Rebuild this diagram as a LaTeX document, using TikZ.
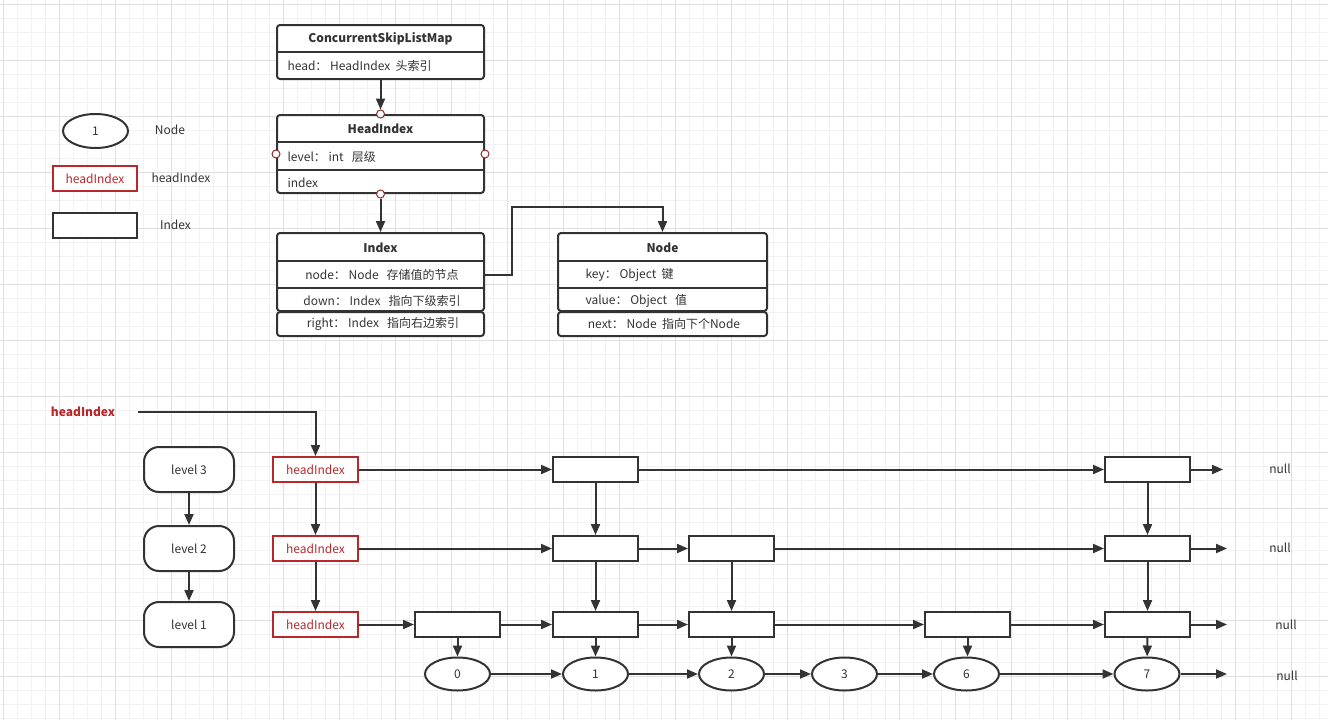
\documentclass[tikz,border=0pt]{standalone}
\usepackage{fontspec}
\setmainfont{Noto Sans CJK SC}
\usetikzlibrary{calc}
\usetikzlibrary{shapes,arrows.meta}

\definecolor{linegray}{HTML}{333333}
\definecolor{boxred}{HTML}{B8282B}
\definecolor{pinred}{HTML}{8E2A2F}
\definecolor{gridminor}{HTML}{F2F2F2}
\definecolor{gridmajor}{HTML}{E0E0E0}

\tikzset{
  line/.style={draw=linegray, line width=2pt},
  arr/.style={line, -{Triangle[length=11pt,width=9pt]}},
  classbox/.style={draw=linegray, line width=2pt, fill=white, rounded corners=3pt, minimum width=207pt, inner sep=0pt},
  idxbox/.style={draw=linegray, line width=2pt, fill=white, minimum width=85pt, minimum height=25pt, inner sep=0pt},
  redbox/.style={draw=boxred, line width=2pt, fill=white, text=boxred, minimum width=85pt, minimum height=25pt, inner sep=0pt},
  nodeell/.style={ellipse, draw=linegray, line width=2pt, fill=white, minimum width=65pt, minimum height=33pt, inner sep=0pt},
  levelbox/.style={draw=linegray, line width=2pt, fill=white, rounded corners=15pt, minimum width=90pt, minimum height=45pt, inner sep=0pt},
  pin/.style={circle, draw=pinred, fill=white, line width=1pt, minimum size=8pt, inner sep=0pt}
}

\begin{document}
\begin{tikzpicture}[x=1pt, y=-1pt, every node/.style={text=linegray, font=\fontsize{12}{14}\selectfont}]
    \useasboundingbox (0,0) rectangle (1328,720);
    \fill[white] (0,0) rectangle (1328,720);

    % background grid
    \foreach \gx in {3,17,...,1327} \draw[gridminor, line width=0.8pt] (\gx,0) -- (\gx,720);
    \foreach \gy in {4,18,...,719} \draw[gridminor, line width=0.8pt] (0,\gy) -- (1328,\gy);
    \foreach \gx in {3,59,...,1327} \draw[gridmajor, line width=0.8pt] (\gx,0) -- (\gx,720);
    \foreach \gy in {4,60,...,719} \draw[gridmajor, line width=0.8pt] (0,\gy) -- (1328,\gy);

    % class boxes
    \node [classbox, minimum height=54pt] (CSLM) at (380.5,52) {};
    \draw [line] (277,52) -- (484,52);
    \node [font=\fontsize{12}{14}\selectfont\bfseries] (CSLMname) at (380.5,38.5) {ConcurrentSkipListMap};
    \node [anchor=west] (CSLMhead) at (284,65.5) {head： HeadIndex~~头索引};

    \node [classbox, minimum height=78pt] (HI) at (380.5,154) {};
    \draw [line] (277,142) -- (484,142);
    \draw [line] (277,170) -- (484,170);
    \node [font=\fontsize{12}{14}\selectfont\bfseries] (HIname) at (380.5,128.5) {HeadIndex};
    \node [anchor=west] (HIlevel) at (284,156.5) {level： int~~~层级};
    \node [anchor=west] (HIindex) at (284,183) {index};
    \node [pin] (HIpinT) at (HI.north) {};
    \node [pin] (HIpinB) at (HI.south) {};
    \node [pin] (HIpinL) at (HI.west) {};
    \node [pin] (HIpinR) at (HI.east) {};

    \node [classbox, minimum height=78pt] (IDX) at (380.5,272) {};
    \draw [line] (277,261) -- (484,261);
    \draw [line] (277,288) -- (484,288);
    \node [classbox, minimum height=24pt] (IDXright) at (380.5,324) {};
    \node [font=\fontsize{12}{14}\selectfont\bfseries] (IDXname) at (380.5,247.5) {Index};
    \node (IDXnode) at (382,275) {node： Node~~~存储值的节点};
    \node (IDXdown) at (382,301) {down： Index~~~指向下级索引};
    \node (IDXrt) at (383,324) {right： Index~~~指向右边索引};
    \coordinate (IDXout) at (484,274.5);

    \node [classbox, minimum width=209pt, minimum height=78pt] (ND) at (662.5,272) {};
    \draw [line] (558,261) -- (767,261);
    \draw [line] (558,288) -- (767,288);
    \node [classbox, minimum width=209pt, minimum height=24pt] (NDnext) at (662.5,324) {};
    \node [font=\fontsize{12}{14}\selectfont\bfseries] (NDname) at (662.5,247.5) {Node};
    \node [anchor=west] (NDkey) at (582,275) {key： Object~~键};
    \node [anchor=west] (NDvalue) at (582,301) {value： Object~~~值};
    \node (NDnx) at (664,324) {next： Node~~指向下个Node};

    \draw [arr] (CSLM.south) -- (HIpinT.north);
    \draw [arr] (HIpinB.south) -- (IDX.north);
    \draw [arr] (IDXout) -- (512,274.5) -- (512,207) -| (ND.north);

    % legend
    \node [nodeell, minimum height=34pt] (LGnode) at (95.5,131) {1};
    \node (LGnodetxt) at (170,130) {Node};
    \node [redbox, minimum width=84pt] (LGhead) at (95,178.5) {headIndex};
    \node (LGheadtxt) at (181,178) {headIndex};
    \node [idxbox, minimum width=84pt] (LGidx) at (95,225.5) {};
    \node (LGidxtxt) at (175.5,225) {Index};

    % skip list
    \node [text=boxred, font=\fontsize{12}{14}\selectfont\bfseries] (HEAD) at (83,412) {headIndex};
    \coordinate (HEADout) at (138,412);

    \node [levelbox] (L3) at (189,469.5) {level 3};
    \node [levelbox] (L2) at (189,548.5) {level 2};
    \node [levelbox] (L1) at (189,624.5) {level 1};

    \node [redbox] (H3) at (315.5,469.5) {headIndex};
    \node [redbox] (H2) at (315.5,548.5) {headIndex};
    \node [redbox] (H1) at (315.5,624.5) {headIndex};

    \node [idxbox] (I3B) at (595.5,469.5) {};
    \node [idxbox] (I3E) at (1147.5,469.5) {};
    \node [idxbox] (I2B) at (595.5,548.5) {};
    \node [idxbox] (I2C) at (731.5,548.5) {};
    \node [idxbox] (I2E) at (1147.5,548.5) {};
    \node [idxbox] (I1A) at (457.5,624.5) {};
    \node [idxbox] (I1B) at (595.5,624.5) {};
    \node [idxbox] (I1C) at (731.5,624.5) {};
    \node [idxbox] (I1D) at (967.5,624.5) {};
    \node [idxbox] (I1E) at (1147.5,624.5) {};

    \node [nodeell] (N0) at (457.5,674) {0};
    \node [nodeell] (N1) at (595.5,674) {1};
    \node [nodeell] (N2) at (731.5,674) {2};
    \node [nodeell] (N3) at (844.5,674) {3};
    \node [nodeell] (N6) at (966.5,674) {6};
    \node [nodeell] (N7) at (1147,674) {7};

    \coordinate (E3) at (1223,469.5);
    \coordinate (E2) at (1227,548.5);
    \coordinate (E1) at (1227,624.5);
    \coordinate (E0) at (1227,674);
    \node (null3) at (1280,469) {null};
    \node (null2) at (1280,548) {null};
    \node (null1) at (1286,625) {null};
    \node (null0) at (1287,676) {null};

    \draw [arr] (HEADout) -| (H3.north);
    \draw [arr] (L3) -- (L2);
    \draw [arr] (L2) -- (L1);
    \draw [arr] (H3) -- (H2);
    \draw [arr] (H2) -- (H1);

    \draw [arr] (H3) -- (I3B);
    \draw [arr] (I3B) -- (I3E);
    \draw [arr] (I3E) -- (E3);
    \draw [arr] (H2) -- (I2B);
    \draw [arr] (I2B) -- (I2C);
    \draw [arr] (I2C) -- (I2E);
    \draw [arr] (I2E) -- (E2);
    \draw [arr] (H1) -- (I1A);
    \draw [arr] (I1A) -- (I1B);
    \draw [arr] (I1B) -- (I1C);
    \draw [arr] (I1C) -- (I1D);
    \draw [arr] (I1D) -- (I1E);
    \draw [arr] (I1E) -- (E1);
    \draw [arr] (N0) -- (N1);
    \draw [arr] (N1) -- (N2);
    \draw [arr] (N2) -- (N3);
    \draw [arr] (N3) -- (N6);
    \draw [arr] (N6) -- (N7);
    \draw [arr] (N7) -- (E0);

    \draw [arr] (I3B) -- (I2B);
    \draw [arr] (I3E) -- (I2E);
    \draw [arr] (I2B) -- (I1B);
    \draw [arr] (I2C) -- (I1C);
    \draw [arr] (I2E) -- (I1E);
    \draw [arr] (I1A) -- (N0);
    \draw [arr] (I1B) -- (N1);
    \draw [arr] (I1C) -- (N2);
    \draw [arr] (I1D.south) -- (N6.north -| I1D.south);
    \draw [arr] (I1E) -- (N7);
\end{tikzpicture}
\end{document}
